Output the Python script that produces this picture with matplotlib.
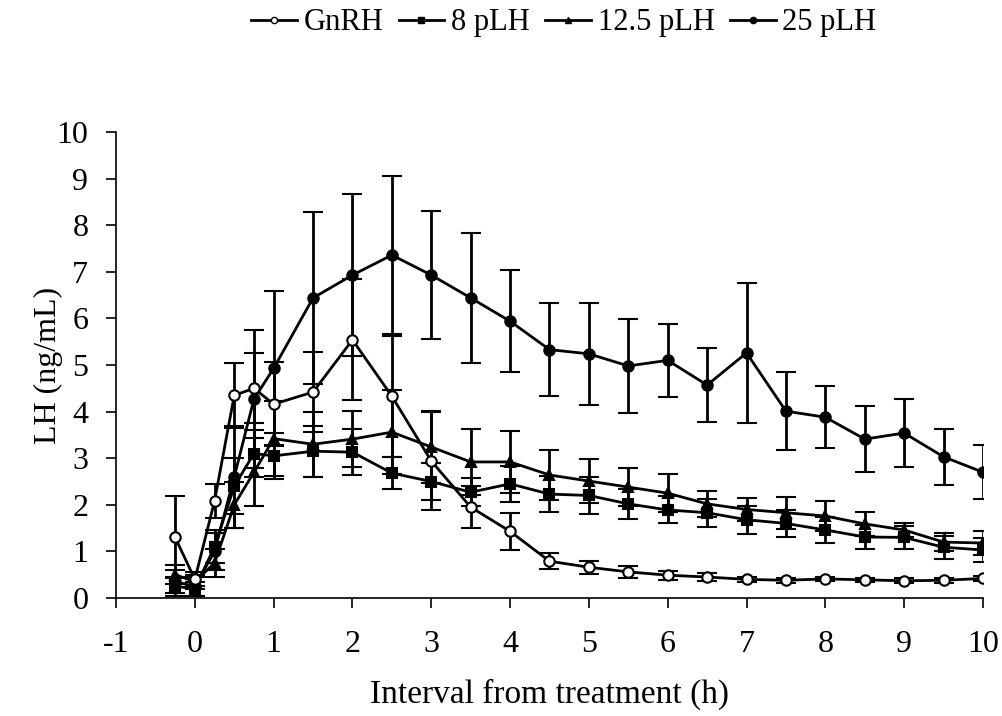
import numpy as np
import matplotlib.pyplot as plt

plt.rcParams['font.family'] = ['Liberation Serif', 'DejaVu Serif']
plt.rcParams['axes.unicode_minus'] = False

# sampling times (h)
hours = [-0.25, 0, 0.25, 0.5, 0.75, 1, 1.5, 2, 2.5, 3, 3.5, 4, 4.5, 5, 5.5,
         6, 6.5, 7, 7.5, 8, 8.5, 9, 9.5, 10]

# LH means (ng/mL) and SEM
gnrh = [1.3, 0.4, 2.08, 4.35, 4.5, 4.16, 4.42, 5.54, 4.33, 2.94, 1.95, 1.43,
        0.79, 0.66, 0.56, 0.49, 0.45, 0.4, 0.38, 0.41, 0.39, 0.37, 0.38, 0.42]
gnrh_err = [0.88, 0.15, 0.37, 0.7, 0.75, 0.9, 0.85, 1.3, 1.3, 1.05, 0.45, 0.4,
            0.17, 0.14, 0.12, 0.1, 0.09, 0.06, 0.05, 0.05, 0.05, 0.05, 0.05, 0.05]

plh8 = [0.25, 0.2, 1.1, 2.4, 3.1, 3.05, 3.15, 3.13, 2.68, 2.5, 2.27, 2.45,
        2.23, 2.2, 2.02, 1.89, 1.83, 1.68, 1.6, 1.46, 1.31, 1.3, 1.09, 1.03]
plh8_err = [0.2, 0.15, 0.35, 0.6, 0.5, 0.5, 0.55, 0.5, 0.35, 0.4, 0.3, 0.38,
            0.38, 0.4, 0.32, 0.29, 0.3, 0.3, 0.29, 0.28, 0.26, 0.24, 0.25, 0.26]

plh12 = [0.5, 0.35, 0.75, 2.0, 2.7, 3.42, 3.3, 3.41, 3.56, 3.24, 2.92, 2.92,
         2.64, 2.51, 2.38, 2.25, 2.02, 1.9, 1.83, 1.76, 1.59, 1.46, 1.2, 1.18]
plh12_err = [0.2, 0.15, 0.3, 0.5, 0.73, 0.8, 0.7, 0.6, 0.9, 0.78, 0.7, 0.66,
             0.54, 0.47, 0.41, 0.41, 0.28, 0.25, 0.34, 0.32, 0.26, 0.15, 0.19, 0.26]

plh25 = [0.35, 0.25, 1.0, 2.6, 4.27, 4.93, 6.44, 6.93, 7.36, 6.93, 6.44, 5.94,
         5.33, 5.24, 4.98, 5.1, 4.57, 5.26, 4.01, 3.88, 3.41, 3.54, 3.03, 2.7]
plh25_err = [0.25, 0.2, 0.4, 1.1, 1.48, 1.65, 1.84, 1.74, 1.7, 1.38, 1.4, 1.1,
             1.0, 1.1, 1.0, 0.78, 0.8, 1.5, 0.83, 0.67, 0.7, 0.72, 0.6, 0.58]

labels = ['GnRH', '8 pLH', '12.5 pLH', '25 pLH']

fig = plt.figure(figsize=(10.03, 7.16), dpi=100)
ax = fig.add_axes([0.1157, 0.1648, 0.8643, 0.6508])

style = dict(color='black', linewidth=2.0, elinewidth=2.0, capsize=7,
             capthick=2.0, markersize=7.5, markeredgewidth=1.5)

ax.errorbar(hours, plh8, yerr=plh8_err, marker='s', **style)
ax.errorbar(hours, plh12, yerr=plh12_err, marker='^', **style)
ax.errorbar(hours, plh25, yerr=plh25_err, marker='o', **style)
ax.errorbar(hours, gnrh, yerr=gnrh_err, marker='o', markerfacecolor='white',
            **style)

ax.set_xlim(-1, 10)
ax.set_ylim(0, 10)
ax.set_xticks(np.arange(-1, 11, 1))
ax.set_yticks(np.arange(0, 11, 1))
ax.spines['top'].set_visible(False)
ax.spines['right'].set_visible(False)
ax.spines['left'].set_linewidth(1.2)
ax.spines['bottom'].set_linewidth(1.2)
ax.tick_params(direction='out', length=7, width=1.2, labelsize=23)
ax.tick_params(axis='x', pad=16)
ax.tick_params(axis='y', pad=13)

ax.set_xlabel('Interval from treatment (h)', fontsize=24, labelpad=14)
ax.set_ylabel('LH (ng/mL)', fontsize=23, labelpad=-5)

proxies = [plt.Line2D([], [], color='black', lw=2, marker=m, ms=4.5,
                      mfc=fc, mec='black')
           for m, fc in [('o', 'white'), ('s', 'black'),
                         ('^', 'black'), ('o', 'black')]]
fig.legend(proxies, labels, loc='center', bbox_to_anchor=(0.562, 0.968), ncol=4,
           frameon=False, fontsize=22, handlelength=1.5,
           handletextpad=0.22, columnspacing=0.5)

plt.savefig('out.png', dpi=100)
